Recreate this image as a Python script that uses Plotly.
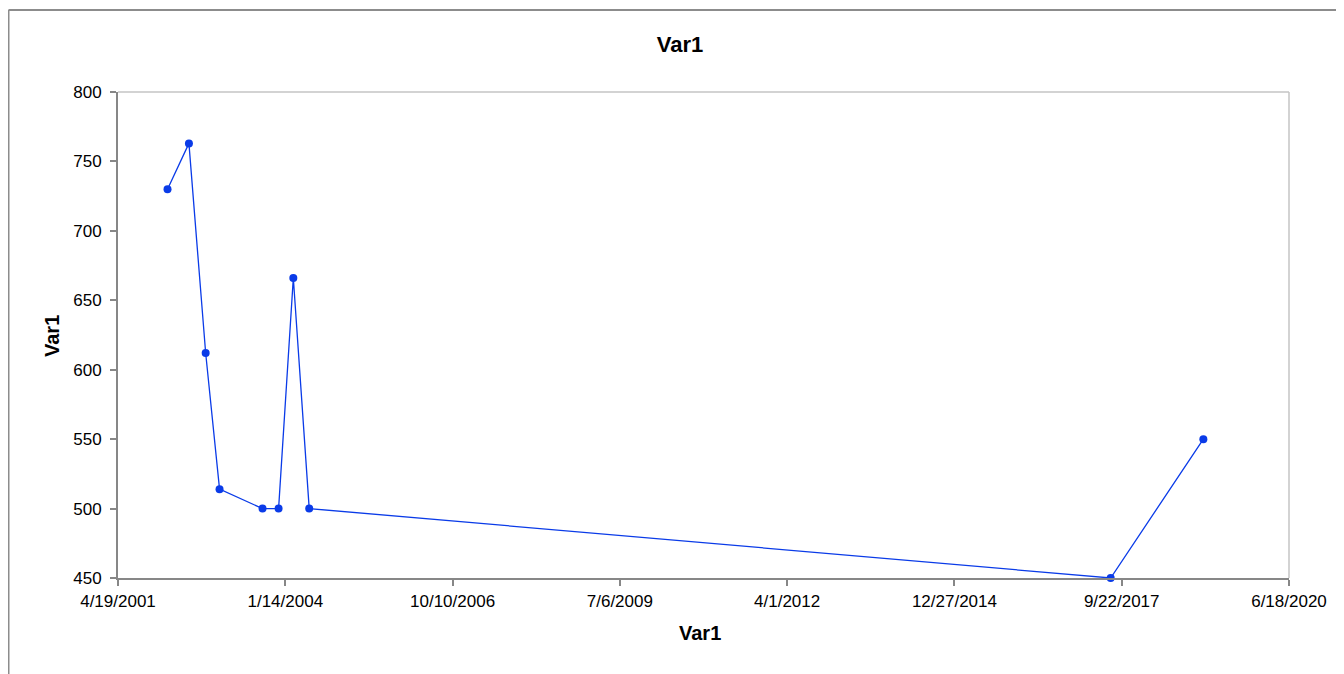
import plotly.graph_objects as go

dates = ["2002-02-09", "2002-06-17", "2002-09-25", "2002-12-17", "2003-08-31",
         "2003-12-05", "2004-03-02", "2004-06-05", "2017-07-18", "2019-01-23"]
values = [730, 763, 612, 514, 500, 500, 666, 500, 450, 550]

x_tick_dates = ["2001-04-19", "2004-01-14", "2006-10-10", "2009-07-06",
                "2012-04-01", "2014-12-27", "2017-09-22", "2020-06-18"]
x_tick_labels = ["4/19/2001", "1/14/2004", "10/10/2006", "7/6/2009",
                 "4/1/2012", "12/27/2014", "9/22/2017", "6/18/2020"]
y_ticks = [450, 500, 550, 600, 650, 700, 750, 800]

blue = "#0A3BE8"
axis_gray = "#878787"
border_gray = "#C4C4C4"
outer_gray = "#8C8C8C"

W, H = 1336, 666
L, R, T, B = 110, 1281, 84, 570   # plot area edges in figure pixels
PW, PH = R - L, B - T


def px(x):
    return (x - L) / PW


def py(y):
    return (B - y) / PH


font_family = "Liberation Sans, Arial, sans-serif"

fig = go.Figure()
fig.add_trace(go.Scatter(
    x=dates, y=values, mode="lines+markers",
    line=dict(color=blue, width=1.3),
    marker=dict(color=blue, size=8),
    showlegend=False, cliponaxis=False,
))

fig.update_layout(
    width=W, height=H,
    margin=dict(l=L, r=W - R, t=T, b=H - B),
    paper_bgcolor="white", plot_bgcolor="white",
    font=dict(family=font_family, size=17, color="black"),
    title=dict(text="<b>Var1</b>", x=672 / W, xanchor="center",
               y=1 - 36 / H, yanchor="middle",
               font=dict(size=22, family=font_family)),
    xaxis=dict(
        type="date", range=[x_tick_dates[0], x_tick_dates[-1]],
        tickmode="array", tickvals=x_tick_dates, ticktext=x_tick_labels,
        ticks="outside", ticklen=6, tickcolor=axis_gray, tickwidth=1.5,
        showline=True, linecolor=axis_gray, linewidth=2,
        showgrid=False, zeroline=False,
        tickfont=dict(size=17), ticklabelstandoff=1,
    ),
    yaxis=dict(
        range=[450, 800], tickmode="array", tickvals=y_ticks,
        ticks="outside", ticklen=6, tickcolor=axis_gray, tickwidth=1.5,
        showline=True, linecolor=axis_gray, linewidth=2,
        showgrid=False, zeroline=False,
        tickfont=dict(size=17), ticklabelstandoff=5,
    ),
    annotations=[
        dict(text="<b>Var1</b>", xref="paper", yref="paper",
             x=px(692), y=py(625), showarrow=False,
             xanchor="center", yanchor="middle", font=dict(size=20)),
        dict(text="<b>Var1</b>", xref="paper", yref="paper",
             x=px(44), y=py(328), showarrow=False, textangle=-90,
             xanchor="center", yanchor="middle", font=dict(size=20)),
    ],
    shapes=[
        dict(type="line", xref="paper", yref="paper", x0=0, x1=1, y0=1, y1=1,
             line=dict(color=border_gray, width=1.5)),
        dict(type="line", xref="paper", yref="paper", x0=1, x1=1, y0=0, y1=1,
             line=dict(color=border_gray, width=1.5)),
        dict(type="line", xref="paper", yref="paper",
             x0=px(0.5), x1=px(0.5), y0=py(H), y1=py(2),
             line=dict(color=outer_gray, width=2)),
        dict(type="line", xref="paper", yref="paper",
             x0=px(0.5), x1=px(W), y0=py(2), y1=py(2),
             line=dict(color=outer_gray, width=2)),
    ],
)

fig.write_html("out.html")
